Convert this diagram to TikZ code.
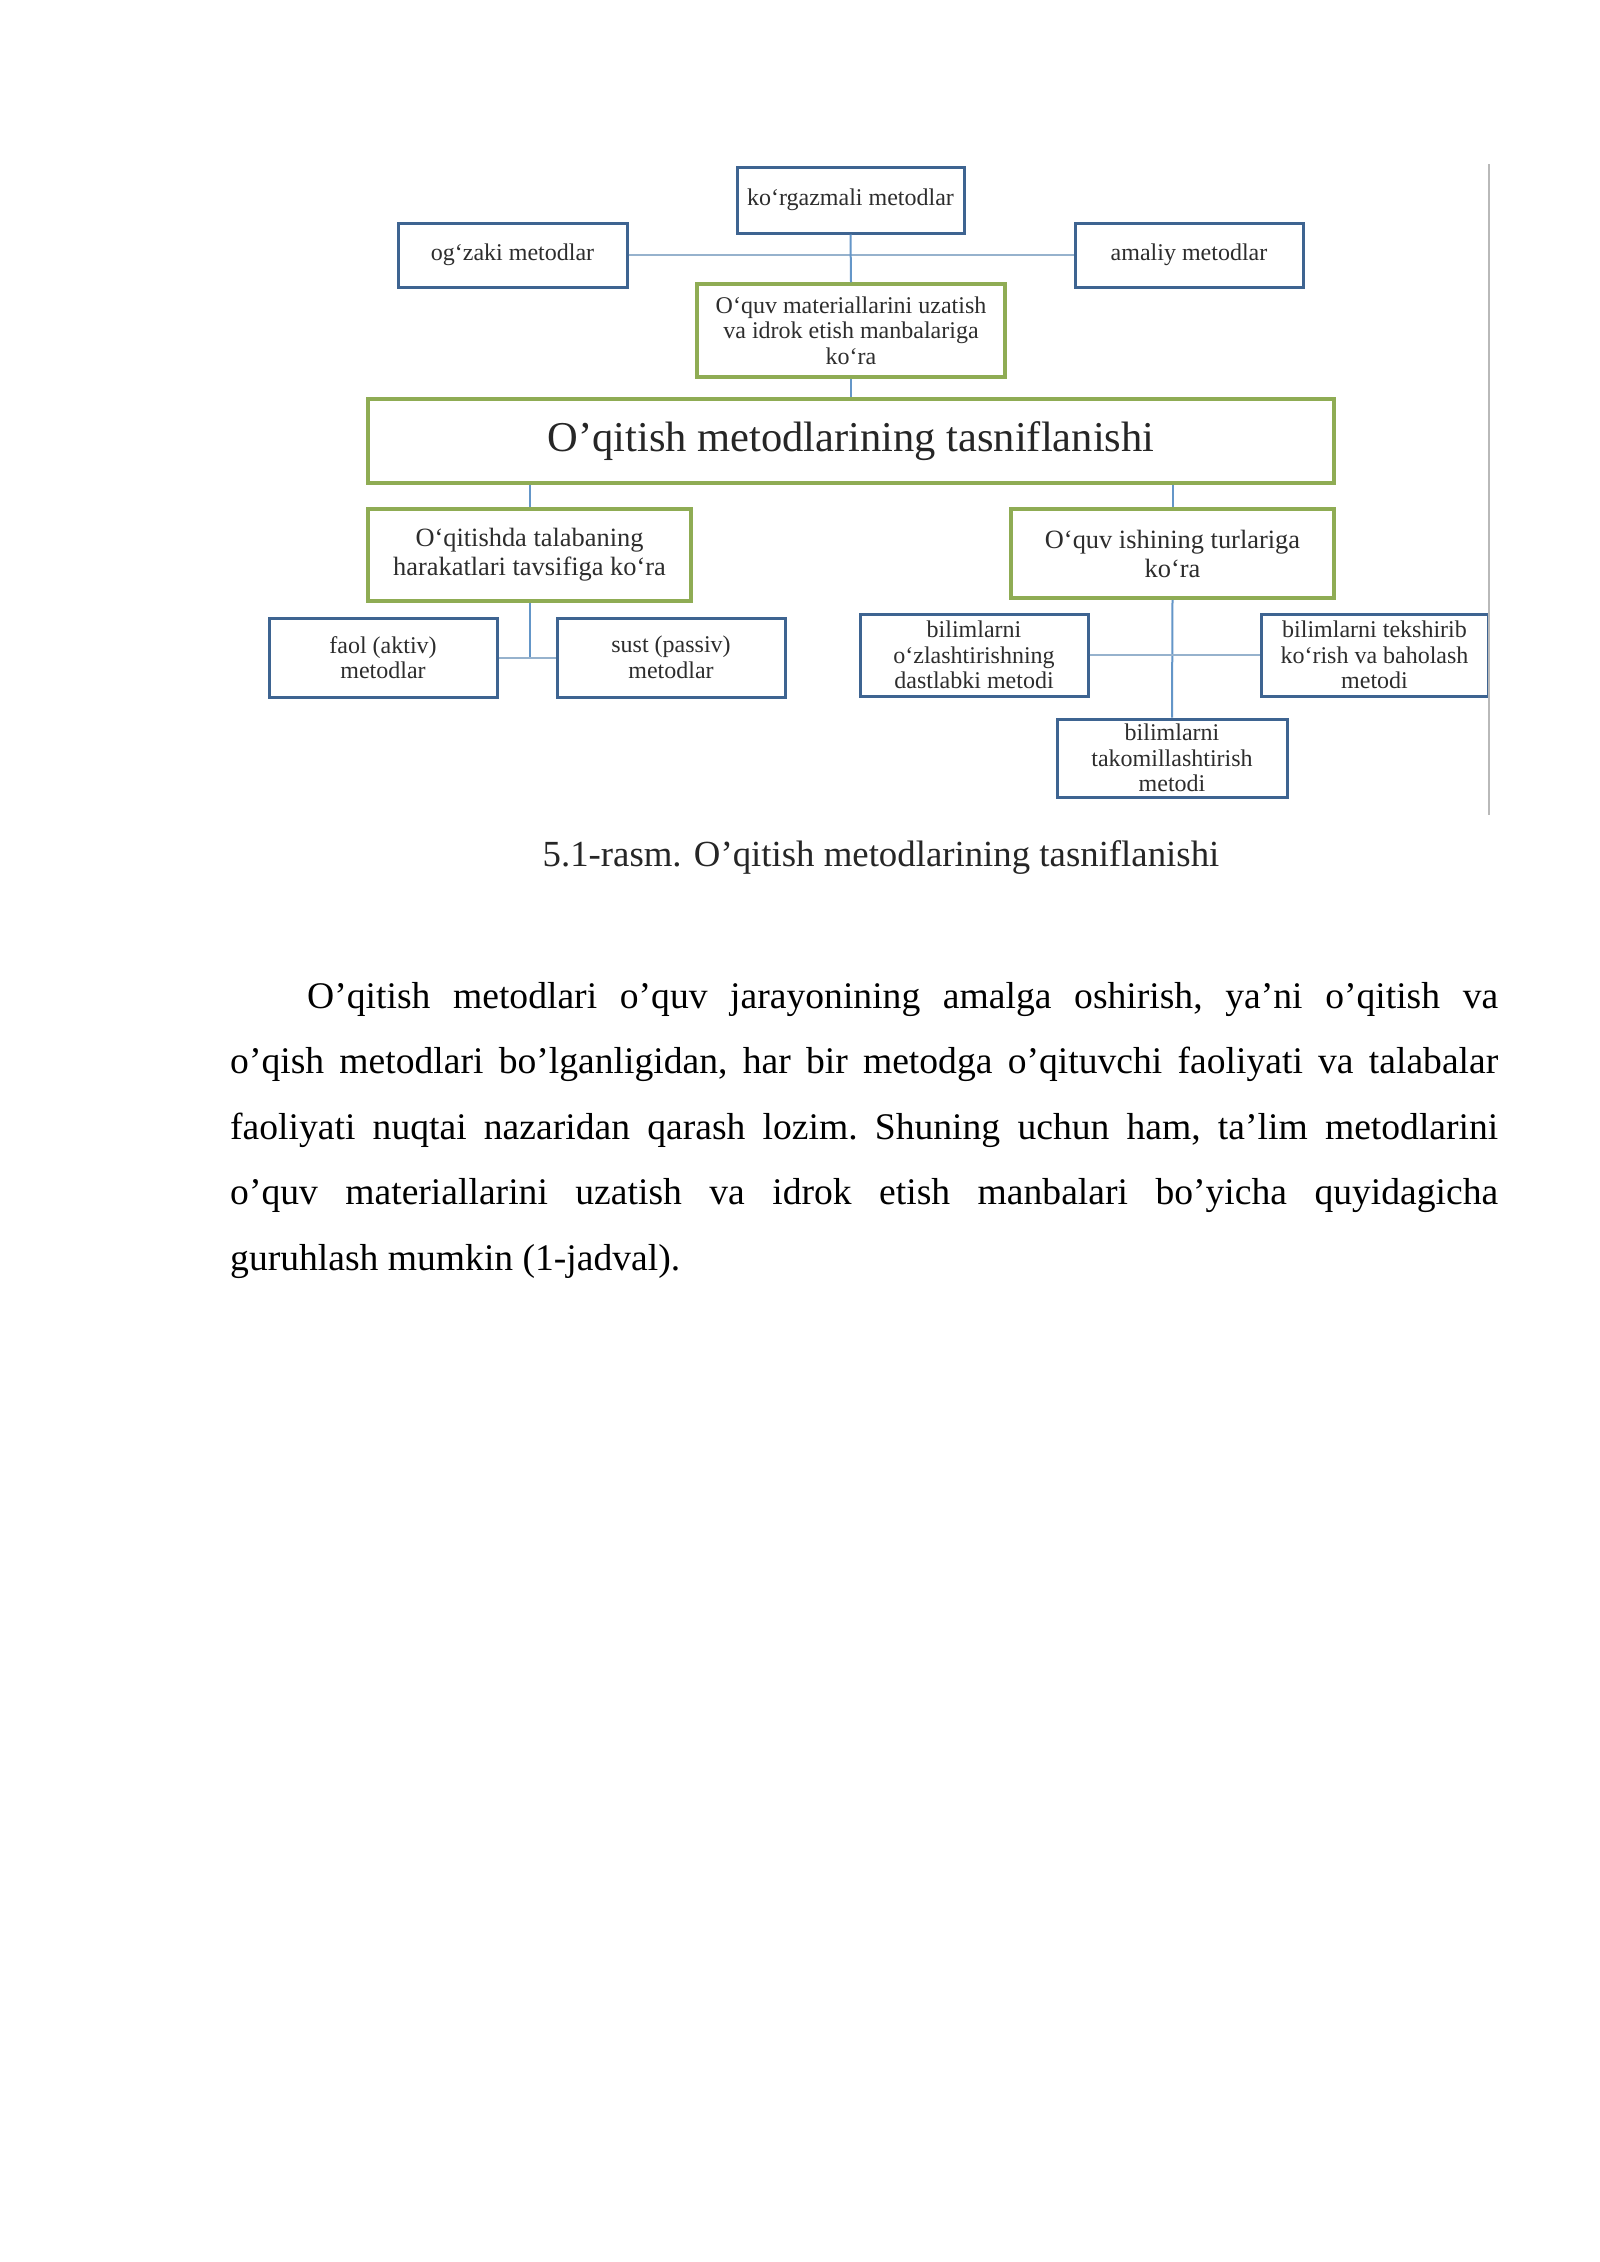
\documentclass[tikz,border=0pt]{standalone}
\usepackage{fontspec}
\setmainfont{Liberation Serif}
\definecolor{boxblue}{RGB}{62,100,145}
\definecolor{boxgreen}{RGB}{143,172,84}
\definecolor{conn}{RGB}{100,150,200}
\definecolor{connlight}{RGB}{150,178,205}
\definecolor{rightline}{RGB}{185,185,185}
\definecolor{boxtext}{RGB}{45,45,45}
\tikzset{
  basebox/.style={fill=white, align=center, inner sep=1pt, text=boxtext,
    font=\fontsize{24}{25.5}\selectfont},
  bluebox/.style={basebox, draw=boxblue, line width=3pt},
  greenbox/.style={basebox, draw=boxgreen, line width=3.5pt},
  conn/.style={draw=conn, line width=2pt},
  connh/.style={draw=connlight, line width=2pt},
  sideline/.style={draw=rightline, line width=2pt},
  midfont/.style={font=\fontsize{26.4}{29}\selectfont},
}
\begin{document}
\begin{tikzpicture}[x=1pt,y=-1pt]
\path[use as bounding box, fill=white] (0,0) rectangle (1600,2262);

\node[bluebox, minimum width=227pt, minimum height=66pt] (korg) at (850.5,200) {ko‘rgazmali metodlar};
\node[bluebox, minimum width=229pt, minimum height=64pt] (ogzaki) at (512.5,255) {og‘zaki metodlar};
\node[bluebox, minimum width=228pt, minimum height=64pt] (amaliy) at (1189,255) {amaliy metodlar};
\node[greenbox, minimum width=308pt, minimum height=93pt] (oquvmat) at (851,330.5) {O‘quv materiallarini uzatish\\va idrok etish manbalariga\\ko‘ra};
\node[greenbox, minimum width=966pt, minimum height=84pt, font=\fontsize{42.5}{46}\selectfont, text=black!85] (main) at (851,441) {O’qitish metodlarining tasniflanishi};
\node[greenbox, midfont, minimum width=323pt, minimum height=92pt] (talab) at (529.5,555) {O‘qitishda talabaning\\harakatlari tavsifiga ko‘ra};
\node[greenbox, midfont, minimum width=323pt, minimum height=89pt] (ishning) at (1172.5,553.5) {O‘quv ishining turlariga\\ko‘ra};
\node[bluebox, minimum width=228pt, minimum height=79pt] (faol) at (383,657.5) {faol (aktiv)\\metodlar};
\node[bluebox, minimum width=228pt, minimum height=79pt] (sust) at (671,657.5) {sust (passiv)\\metodlar};
\node[bluebox, minimum width=228pt, minimum height=82pt] (ozlash) at (974,655) {bilimlarni\\o‘zlashtirishning\\dastlabki metodi};
\node[bluebox, minimum width=227pt, minimum height=82pt] (teksh) at (1374.5,655) {bilimlarni tekshirib\\ko‘rish va baholash\\metodi};
\node[bluebox, minimum width=230pt, minimum height=78pt] (takom) at (1172,758) {bilimlarni\\takomillashtirish\\metodi};

\draw[connh] (ogzaki.east) -- (amaliy.west);
\draw[conn] (korg.south) -- (oquvmat.north);
\draw[conn] (oquvmat.south) -- (main.north);
\draw[conn] (main.south -| talab.north) -- (talab.north);
\draw[conn] (main.south -| ishning.north) -- (ishning.north);
\coordinate (tj) at (talab.south |- faol.east);
\draw[conn] (talab.south) -- (tj);
\draw[connh] (faol.east) -- (sust.west);
\draw[conn] (ishning.south) -- (takom.north);
\draw[connh] (ozlash.east) -- (teksh.west);

\coordinate (rt) at (1489,164);
\coordinate (rb) at (1489,815);
\draw[sideline] (rt) -- (rb);

\node[font=\fontsize{36.8}{40}\selectfont, text=black!85] (caption) at (881,858) {5.1-rasm. O’qitish metodlarining tasniflanishi};

\node[anchor=base west, inner sep=0pt] (para) at (230,1008) {%
\begin{minipage}[t]{1268pt}
\fontsize{37.6}{65.5}\selectfont\frenchspacing
\hspace*{77pt}O’qitish metodlari o’quv jarayonining amalga oshirish, ya’ni o’qitish va\linebreak
o’qish metodlari bo’lganligidan, har bir metodga o’qituvchi faoliyati va talabalar\linebreak
faoliyati nuqtai nazaridan qarash lozim. Shuning uchun ham, ta’lim metodlarini\linebreak
o’quv materiallarini uzatish va idrok etish manbalari bo’yicha quyidagicha\linebreak
guruhlash mumkin (1-jadval).
\end{minipage}};
\end{tikzpicture}
\end{document}
